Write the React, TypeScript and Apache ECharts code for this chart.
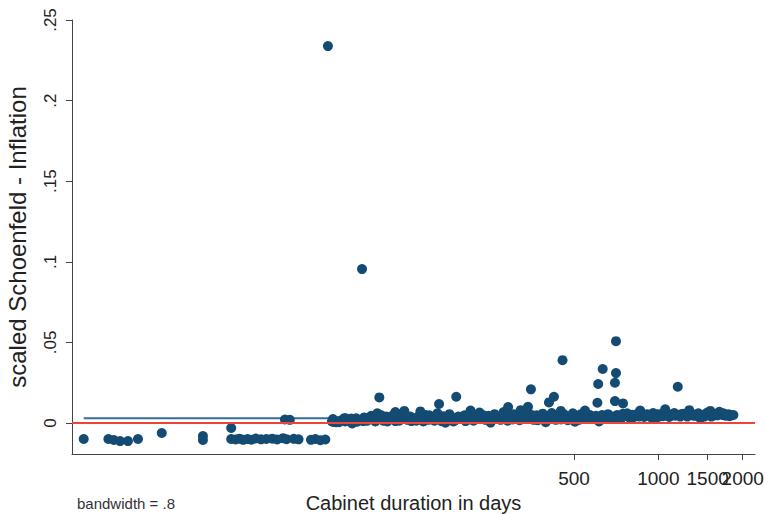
import React, { useEffect, useRef } from "react";
import * as echarts from "echarts";

// x: cabinet duration in days, y: scaled Schoenfeld residual
const leftDays = [8.9, 10.9, 11.4, 12.0, 12.8, 13.9, 16.9, 23.7, 23.7, 29.9, 29.9, 31.0, 32.0, 33.0, 34.2, 35.3, 36.6, 38.2, 39.9, 41.9, 43.6, 45.8, 47.1, 50.0, 52.0, 57.6, 59.7, 62.2, 64.8];
const leftVals = [-0.0099, -0.0099, -0.0105, -0.0112, -0.0112, -0.0099, -0.0062, -0.0081, -0.0105, -0.0031, -0.0099, -0.0102, -0.0097, -0.0104, -0.0099, -0.0103, -0.0096, -0.0101, -0.0099, -0.0097, -0.0102, -0.0094, -0.0100, -0.0098, -0.0101, -0.0104, -0.0099, -0.0106, -0.0102];

const midDays = [46.5, 48.4, 69.4, 76.6, 80.2];
const midVals = [0.0022, 0.0020, 0.0007, 0.0030, 0.0008];

const bandDays = [68.4, 70.8, 73.2, 75.6, 78.2, 80.8, 83.5, 86.3, 89.2, 91.4, 94.5, 96.8, 99.3, 101.8, 104.3, 107.0, 109.6, 112.3, 115.2, 118.1, 121.0, 124.0, 127.2, 130.3, 133.6, 136.9, 140.3, 143.8, 147.5, 151.2, 155.0, 158.8, 162.8, 166.9, 171.1, 175.3, 179.7, 184.2, 188.8, 193.5, 198.4, 203.4, 208.4, 213.7, 219.0, 224.5, 230.1, 235.8, 241.8, 247.8, 254.1, 260.4, 267.0, 273.6, 280.4, 287.5, 294.6, 302.0, 309.6, 317.3, 325.3, 333.4, 341.8, 350.3, 359.0, 368.1, 377.3, 386.7, 396.4, 406.3, 416.5, 426.9, 437.6, 448.6, 459.8, 471.4, 483.1, 495.2, 504.1, 516.7, 529.5, 542.8, 556.4, 570.3, 584.5, 599.2, 614.2, 629.6, 645.3, 661.4, 678.0, 695.0, 712.4, 730.2, 748.4, 767.3, 786.4, 806.1, 826.3, 846.9, 868.2, 889.9, 912.2, 935.1, 958.4, 982.4, 1007.0, 1032.2, 1058.1, 1084.5, 1111.7, 1139.4, 1168.0, 1197.3, 1227.2, 1258.0, 1289.4, 1321.7, 1354.9, 1388.7, 1423.4, 1459.0, 1495.6, 1533.1, 1571.4, 1610.8, 1651.0, 1692.4, 1734.8, 1778.1, 1822.7];
const bandVals = [0.0010, 0.0005, 0.0015, 0.0030, 0.0022, 0.0012, 0.0030, 0.0020, 0.0035, 0.0015, 0.0045, 0.0025, 0.0060, 0.0030, 0.0015, 0.0040, 0.0022, 0.0035, 0.0012, 0.0028, 0.0055, 0.0075, 0.0020, 0.0040, 0.0025, 0.0015, 0.0045, 0.0030, 0.0050, 0.0020, 0.0035, 0.0015, 0.0060, 0.0030, 0.0042, 0.0022, 0.0055, 0.0035, 0.0018, 0.0040, 0.0028, 0.0048, 0.0020, 0.0035, 0.0015, 0.0042, 0.0065, 0.0030, 0.0020, 0.0045, 0.0028, 0.0055, 0.0038, 0.0020, 0.0068, 0.0032, 0.0045, 0.0022, 0.0038, 0.0050, 0.0028, 0.0042, 0.0070, 0.0035, 0.0020, 0.0048, 0.0030, 0.0058, 0.0040, 0.0025, 0.0062, 0.0035, 0.0048, 0.0022, 0.0055, 0.0040, 0.0028, 0.0060, 0.0045, 0.0032, 0.0055, 0.0040, 0.0025, 0.0050, 0.0035, 0.0045, 0.0010, 0.0050, 0.0038, 0.0055, 0.0042, 0.0030, 0.0050, 0.0040, 0.0058, 0.0045, 0.0035, 0.0052, 0.0042, 0.0060, 0.0048, 0.0038, 0.0055, 0.0045, 0.0062, 0.0050, 0.0040, 0.0058, 0.0085, 0.0055, 0.0045, 0.0062, 0.0050, 0.0040, 0.0058, 0.0048, 0.0080, 0.0055, 0.0045, 0.0060, 0.0050, 0.0040, 0.0065, 0.0052, 0.0045, 0.0058, 0.0070, 0.0050, 0.0045, 0.0055, 0.0048];

const band2Days = [69.0, 72.5, 76.3, 80.2, 84.2, 88.5, 92.9, 97.7, 102.6, 107.9, 113.3, 119.0, 125.1, 131.4, 138.1, 145.0, 152.4, 160.1, 168.3, 176.8, 185.7, 195.1, 205.0, 215.5, 226.4, 237.8, 249.9, 262.6, 275.9, 289.8, 304.5, 319.9, 336.2, 353.2, 371.2, 389.9, 409.6, 430.5, 452.3, 475.2, 499.3, 520.9, 547.3, 575.0, 604.1, 634.8, 666.9, 700.8, 736.2, 773.6, 812.8, 853.9, 897.3, 942.8, 990.5, 1040.7, 1093.5, 1149.0, 1207.2, 1268.4, 1332.6, 1400.2, 1471.2, 1545.7, 1624.1, 1706.4, 1792.8, 1852.9];
const band2Vals = [0.0025, 0.0005, 0.0010, 0.0028, 0.0008, 0.0012, 0.0030, 0.0010, 0.0048, 0.0010, 0.0050, 0.0015, 0.0050, 0.0012, 0.0035, 0.0010, 0.0048, 0.0035, 0.0012, 0.0040, 0.0010, 0.0025, 0.0012, 0.0050, 0.0025, 0.0048, 0.0012, 0.0025, 0.0045, 0.0015, 0.0055, 0.0018, 0.0025, 0.0050, 0.0018, 0.0025, 0.0045, 0.0020, 0.0040, 0.0018, 0.0030, 0.0020, 0.0058, 0.0025, 0.0030, 0.0028, 0.0030, 0.0040, 0.0028, 0.0060, 0.0035, 0.0040, 0.0048, 0.0035, 0.0055, 0.0042, 0.0038, 0.0045, 0.0055, 0.0040, 0.0045, 0.0040, 0.0055, 0.0040, 0.0048, 0.0060, 0.0042, 0.0050];

const band3Days = [80.8, 115.2, 141.5, 173.9, 213.7, 252.0, 322.6, 396.4, 448.6, 504.1, 547.3, 861.1, 974.4, 1411.8, 1533.1];
const band3Vals = [-0.0003, 0.0068, 0.0072, 0.0002, 0.0078, 0.0003, 0.0080, 0.0005, 0.0075, 0.0008, 0.0078, 0.0078, 0.0025, 0.0030, 0.0075];

const outlierDays = [66.2, 87.6, 101.0, 165.0, 190.0, 291.0, 342.6, 351.0, 407.0, 424.0, 455.0, 606.0, 610.0, 633.0, 700.0, 706.0, 706.0, 700.0, 748.0, 1173.0];
const outlierVals = [0.2338, 0.0955, 0.0159, 0.0118, 0.0163, 0.0099, 0.0101, 0.0209, 0.0128, 0.0163, 0.0390, 0.0126, 0.0242, 0.0335, 0.0250, 0.0310, 0.0508, 0.0136, 0.0122, 0.0225];

// lowess smooth (bandwidth .8)
const smoothDays = [8.9, 67.0, 300.0, 1852.9];
const smoothVals = [0.0029, 0.0029, 0.0031, 0.0033];

const xTickDays = [500, 1000, 1500];
const xTickDaysLast = [2000];
const yTicks = [0, 0.05, 0.1, 0.15, 0.2, 0.25];

const FONT = "'Liberation Sans', Arial, sans-serif";
const X_MIN = 2.0897;
const X_MAX = 7.7019;

export default function App() {
  const ref = useRef<HTMLDivElement>(null);
  useEffect(() => {
    document.body.style.margin = "0";
    const chart = echarts.init(ref.current!, undefined, { renderer: "svg" });
    const pts: number[][] = [];
    const add = (d: number[], v: number[]) => d.forEach((x, i) => pts.push([Math.log(x), v[i]]));
    add(leftDays, leftVals);
    add(midDays, midVals);
    add(bandDays, bandVals);
    add(band2Days, band2Vals);
    add(band3Days, band3Vals);
    add(outlierDays, outlierVals);
    const smooth = smoothDays.map((d, i) => [Math.log(d), smoothVals[i]]);
    const xCustom = xTickDays.map((d) => Math.log(d));
    const xCustomLast = xTickDaysLast.map((d) => Math.log(d));
    const labelBase = {
      hideOverlap: false,
      margin: 15,
      fontSize: 19,
      color: "#222",
      fontFamily: FONT,
      formatter: (v: number) => String(Math.round(Math.exp(v))),
    };
    chart.setOption({
      animation: false,
      backgroundColor: "#ffffff",
      textStyle: { fontFamily: FONT },
      grid: { left: 72, right: 10, top: 20, bottom: 60, containLabel: false, outerBoundsMode: "none" },
      xAxis: [
        {
          type: "value",
          min: X_MIN,
          max: X_MAX,
          name: "Cabinet duration in days",
          nameLocation: "middle",
          nameGap: 33,
          nameTextStyle: { fontSize: 20, color: "#222", fontFamily: FONT },
          splitLine: { show: false },
          axisLine: { show: true, onZero: false, lineStyle: { color: "#444", width: 1 } },
          axisTick: { show: true, length: 6, customValues: xCustom, lineStyle: { color: "#444" } },
          axisLabel: { ...labelBase, customValues: xCustom },
        },
        {
          type: "value",
          position: "bottom",
          offset: 0,
          min: X_MIN,
          max: X_MAX,
          splitLine: { show: false },
          axisLine: { show: false, onZero: false },
          axisTick: { show: true, length: 6, customValues: xCustomLast, lineStyle: { color: "#444" } },
          axisLabel: { ...labelBase, customValues: xCustomLast },
        },
      ],
      yAxis: {
        type: "value",
        min: -0.0192,
        max: 0.25,
        name: "scaled Schoenfeld - Inflation",
        nameLocation: "middle",
        nameGap: 43,
        nameTextStyle: { fontSize: 24, color: "#222", fontFamily: FONT },
        splitLine: { show: false },
        axisLine: { show: true, onZero: false, lineStyle: { color: "#444", width: 1 } },
        axisTick: { show: true, length: 6, customValues: yTicks, lineStyle: { color: "#444" } },
        axisLabel: {
          customValues: yTicks,
          hideOverlap: false,
          rotate: 90,
          margin: 13,
          fontSize: 17,
          color: "#222",
          fontFamily: FONT,
          formatter: (v: number) => (v === 0 ? "0" : String(v).replace(/^0/, "")),
        },
      },
      graphic: [
        {
          type: "text",
          left: 77,
          top: 496,
          style: { text: "bandwidth = .8", fontSize: 15, fill: "#333", fontFamily: FONT },
        },
      ],
      series: [
        {
          type: "line",
          data: [],
          z: 1,
          markLine: {
            silent: true,
            symbol: "none",
            label: { show: false },
            lineStyle: { color: "#ee4538", width: 2, type: "solid" },
            data: [{ yAxis: 0 }],
          },
        },
        {
          type: "line",
          data: smooth,
          showSymbol: false,
          z: 2,
          lineStyle: { color: "#356d9a", width: 2 },
        },
        {
          type: "scatter",
          data: pts,
          symbolSize: 10,
          z: 3,
          itemStyle: { color: "#134b72", opacity: 1 },
        },
      ],
    });
    return () => chart.dispose();
  }, []);
  return <div ref={ref} style={{ width: 765, height: 514 }} />;
}
